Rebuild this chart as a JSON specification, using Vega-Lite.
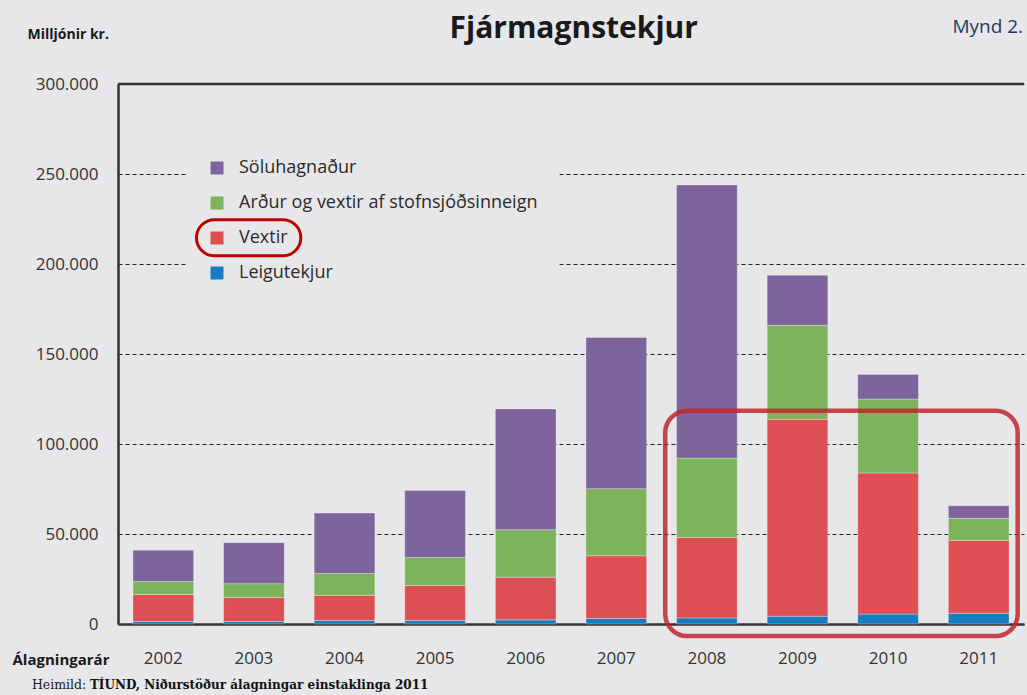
{
  "$schema": "https://vega.github.io/schema/vega-lite/v6.json",
  "width": 906,
  "height": 540,
  "autosize": {"type": "none"},
  "padding": {"left": 118, "top": 84, "right": 3, "bottom": 71},
  "background": "#e7e7e9",
  "config": {
    "view": {"stroke": null},
    "font": "Open Sans",
    "locale": {"number": {"decimal": ",", "thousands": ".", "grouping": [3], "currency": ["", " kr."]}}
  },
  "layer": [
    {
      "data": {"values": [
        {"ar": "2002", "flokkur": "Leigutekjur", "rod": 1, "upphaed": 1400},
        {"ar": "2002", "flokkur": "Vextir", "rod": 2, "upphaed": 15000},
        {"ar": "2002", "flokkur": "Arður og vextir af stofnsjóðsinneign", "rod": 3, "upphaed": 7200},
        {"ar": "2002", "flokkur": "Söluhagnaður", "rod": 4, "upphaed": 17400},
        {"ar": "2003", "flokkur": "Leigutekjur", "rod": 1, "upphaed": 1400},
        {"ar": "2003", "flokkur": "Vextir", "rod": 2, "upphaed": 13300},
        {"ar": "2003", "flokkur": "Arður og vextir af stofnsjóðsinneign", "rod": 3, "upphaed": 7700},
        {"ar": "2003", "flokkur": "Söluhagnaður", "rod": 4, "upphaed": 22800},
        {"ar": "2004", "flokkur": "Leigutekjur", "rod": 1, "upphaed": 1900},
        {"ar": "2004", "flokkur": "Vextir", "rod": 2, "upphaed": 14000},
        {"ar": "2004", "flokkur": "Arður og vextir af stofnsjóðsinneign", "rod": 3, "upphaed": 12200},
        {"ar": "2004", "flokkur": "Söluhagnaður", "rod": 4, "upphaed": 33500},
        {"ar": "2005", "flokkur": "Leigutekjur", "rod": 1, "upphaed": 1900},
        {"ar": "2005", "flokkur": "Vextir", "rod": 2, "upphaed": 19500},
        {"ar": "2005", "flokkur": "Arður og vextir af stofnsjóðsinneign", "rod": 3, "upphaed": 15600},
        {"ar": "2005", "flokkur": "Söluhagnaður", "rod": 4, "upphaed": 37100},
        {"ar": "2006", "flokkur": "Leigutekjur", "rod": 1, "upphaed": 2300},
        {"ar": "2006", "flokkur": "Vextir", "rod": 2, "upphaed": 23700},
        {"ar": "2006", "flokkur": "Arður og vextir af stofnsjóðsinneign", "rod": 3, "upphaed": 26400},
        {"ar": "2006", "flokkur": "Söluhagnaður", "rod": 4, "upphaed": 67100},
        {"ar": "2007", "flokkur": "Leigutekjur", "rod": 1, "upphaed": 3100},
        {"ar": "2007", "flokkur": "Vextir", "rod": 2, "upphaed": 34800},
        {"ar": "2007", "flokkur": "Arður og vextir af stofnsjóðsinneign", "rod": 3, "upphaed": 37300},
        {"ar": "2007", "flokkur": "Söluhagnaður", "rod": 4, "upphaed": 84000},
        {"ar": "2008", "flokkur": "Leigutekjur", "rod": 1, "upphaed": 3400},
        {"ar": "2008", "flokkur": "Vextir", "rod": 2, "upphaed": 44700},
        {"ar": "2008", "flokkur": "Arður og vextir af stofnsjóðsinneign", "rod": 3, "upphaed": 44100},
        {"ar": "2008", "flokkur": "Söluhagnaður", "rod": 4, "upphaed": 151700},
        {"ar": "2009", "flokkur": "Leigutekjur", "rod": 1, "upphaed": 4300},
        {"ar": "2009", "flokkur": "Vextir", "rod": 2, "upphaed": 109400},
        {"ar": "2009", "flokkur": "Arður og vextir af stofnsjóðsinneign", "rod": 3, "upphaed": 52300},
        {"ar": "2009", "flokkur": "Söluhagnaður", "rod": 4, "upphaed": 27800},
        {"ar": "2010", "flokkur": "Leigutekjur", "rod": 1, "upphaed": 5500},
        {"ar": "2010", "flokkur": "Vextir", "rod": 2, "upphaed": 78400},
        {"ar": "2010", "flokkur": "Arður og vextir af stofnsjóðsinneign", "rod": 3, "upphaed": 41100},
        {"ar": "2010", "flokkur": "Söluhagnaður", "rod": 4, "upphaed": 13600},
        {"ar": "2011", "flokkur": "Leigutekjur", "rod": 1, "upphaed": 6000},
        {"ar": "2011", "flokkur": "Vextir", "rod": 2, "upphaed": 40400},
        {"ar": "2011", "flokkur": "Arður og vextir af stofnsjóðsinneign", "rod": 3, "upphaed": 12300},
        {"ar": "2011", "flokkur": "Söluhagnaður", "rod": 4, "upphaed": 7000}
      ]},
      "mark": {"type": "bar", "stroke": "#ffffff", "strokeOpacity": 0.3, "strokeWidth": 1},
      "encoding": {
        "x": {
          "field": "ar", "type": "ordinal",
          "scale": {"paddingInner": 0.33, "paddingOuter": 0.165},
          "axis": {
            "title": "Álagningarár", "titleX": -106, "titleY": 40, "titleAlign": "left", "titleAnchor": "start",
            "titleBaseline": "alphabetic", "titleFont": "Open Sans", "titleFontSize": 15, "titleFontWeight": "bold", "titleColor": "#1a1a1a",
            "labelAngle": 0, "labelFontSize": 17, "labelPadding": 26, "labelColor": "#333333",
            "ticks": false, "tickSize": 0, "domainColor": "#333333", "domainWidth": 2.5
          }
        },
        "y": {
          "field": "upphaed", "type": "quantitative", "stack": "zero",
          "scale": {"domain": [0, 300000], "nice": false},
          "axis": {
            "title": "Milljónir kr.", "titleAngle": 0, "titleAlign": "left", "titleBaseline": "alphabetic",
            "titleX": -91, "titleY": -46, "titleFont": "Open Sans", "titleFontSize": 14, "titleFontWeight": "bold", "titleColor": "#1a1a1a",
            "values": [0, 50000, 100000, 150000, 200000, 250000, 300000], "format": ",.0f",
            "labelFontSize": 17, "labelColor": "#333333", "labelPadding": 20,
            "ticks": false, "tickSize": 0, "domainColor": "#333333", "domainWidth": 2.5,
            "grid": true, "gridColor": "#222222", "gridDash": [4, 3], "gridWidth": 1
          }
        },
        "color": {
          "field": "flokkur", "type": "nominal",
          "scale": {
            "domain": ["Söluhagnaður", "Arður og vextir af stofnsjóðsinneign", "Vextir", "Leigutekjur"],
            "range": ["#7e639c", "#7db45b", "#de4f53", "#177dc1"]
          },
          "legend": {
            "title": null, "orient": "none", "legendX": 90, "legendY": 75, "padding": 0,
            "symbolType": "square", "symbolSize": 169, "symbolStrokeWidth": 0,
            "labelFontSize": 18, "labelColor": "#2b2b2b", "labelOffset": 13, "rowPadding": 17, "labelLimit": 450
          }
        },
        "order": {"field": "rod", "type": "quantitative", "sort": "ascending"}
      }
    },
    {
      "layer": [
        {
          "data": {"values": [{"x": 2002.25, "x2": 2006.37, "y": 271700, "y2": 177000}]},
          "mark": {"type": "rect", "fill": "#e7e7e9", "stroke": null},
          "encoding": {
            "x": {"field": "x", "type": "quantitative", "scale": {"domain": [2001.5, 2011.5], "nice": false, "zero": false}, "axis": null},
            "x2": {"field": "x2"},
            "y": {"field": "y", "type": "quantitative"},
            "y2": {"field": "y2"}
          }
        },
        {
          "data": {"values": [{"y": 300000}]},
          "mark": {"type": "rule", "color": "#333333", "strokeWidth": 2.5},
          "encoding": {"y": {"field": "y", "type": "quantitative"}}
        },
        {
          "data": {"values": [{"x": 2007.54, "x2": 2011.43, "y": 118500, "y2": -6700}]},
          "mark": {"type": "rect", "filled": false, "stroke": "#c0272d", "strokeOpacity": 0.85, "strokeWidth": 4.5, "cornerRadius": 22},
          "encoding": {
            "x": {"field": "x", "type": "quantitative", "scale": {"domain": [2001.5, 2011.5], "nice": false, "zero": false}, "axis": null},
            "x2": {"field": "x2"},
            "y": {"field": "y", "type": "quantitative"},
            "y2": {"field": "y2"}
          }
        },
        {
          "data": {"values": [{"x": 2002.366, "x2": 2003.518, "y": 224600, "y2": 204600}]},
          "mark": {"type": "rect", "filled": false, "stroke": "#c00000", "strokeWidth": 3, "cornerRadius": 18},
          "encoding": {
            "x": {"field": "x", "type": "quantitative", "scale": {"domain": [2001.5, 2011.5], "nice": false, "zero": false}, "axis": null},
            "x2": {"field": "x2"},
            "y": {"field": "y", "type": "quantitative"},
            "y2": {"field": "y2"}
          }
        },
        {
          "data": {"values": [{"texti": "Fjármagnstekjur", "x": 2006.53, "y": 325600}]},
          "mark": {"type": "text", "align": "center", "baseline": "alphabetic", "font": "Open Sans", "fontSize": 30, "fontWeight": "bold", "color": "#1a1a1a"},
          "encoding": {
            "x": {"field": "x", "type": "quantitative", "scale": {"domain": [2001.5, 2011.5], "nice": false, "zero": false}, "axis": null},
            "y": {"field": "y", "type": "quantitative"},
            "text": {"field": "texti"}
          }
        },
        {
          "data": {"values": [{"texti": "Mynd 2.", "x": 2011.49, "y": 328400}]},
          "mark": {"type": "text", "align": "right", "baseline": "alphabetic", "font": "Open Sans", "fontSize": 19, "color": "#243a63"},
          "encoding": {
            "x": {"field": "x", "type": "quantitative", "scale": {"domain": [2001.5, 2011.5], "nice": false, "zero": false}, "axis": null},
            "y": {"field": "y", "type": "quantitative"},
            "text": {"field": "texti"}
          }
        },
        {
          "data": {"values": [{"texti": "Heimild:", "x": 2000.55, "y": -36000}]},
          "mark": {"type": "text", "align": "left", "baseline": "alphabetic", "font": "DejaVu Serif", "fontSize": 12.5, "color": "#222222"},
          "encoding": {
            "x": {"field": "x", "type": "quantitative", "scale": {"domain": [2001.5, 2011.5], "nice": false, "zero": false}, "axis": null},
            "y": {"field": "y", "type": "quantitative"},
            "text": {"field": "texti"}
          }
        },
        {
          "data": {"values": [{"texti": "TÍUND, Niðurstöður álagningar einstaklinga 2011", "x": 2001.19, "y": -36000}]},
          "mark": {"type": "text", "align": "left", "baseline": "alphabetic", "font": "DejaVu Serif", "fontSize": 12, "fontWeight": "bold", "color": "#111111"},
          "encoding": {
            "x": {"field": "x", "type": "quantitative", "scale": {"domain": [2001.5, 2011.5], "nice": false, "zero": false}, "axis": null},
            "y": {"field": "y", "type": "quantitative"},
            "text": {"field": "texti"}
          }
        }
      ]
    }
  ],
  "resolve": {"scale": {"x": "independent"}, "axis": {"x": "independent"}}
}
